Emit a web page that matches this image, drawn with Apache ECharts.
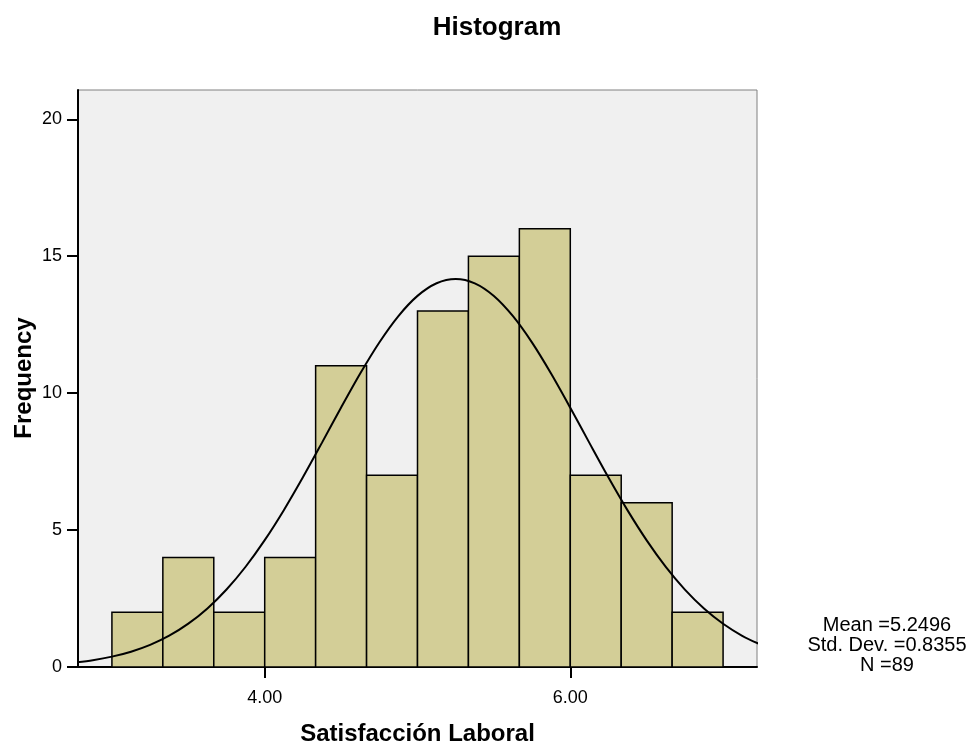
<!DOCTYPE html>
<html>
<head>
<meta charset="utf-8">
<script src="https://cdn.jsdelivr.net/npm/echarts@6/dist/echarts.min.js"></script>
<style>
  html, body { margin: 0; padding: 0; background: #ffffff; }
  #chart { width: 971px; height: 744px; }
</style>
</head>
<body>
<div id="chart"></div>
<script>
// ---- data ----
const binEdges = [3.0, 3.3333, 3.6667, 4.0, 4.3333, 4.6667, 5.0, 5.3333, 5.6667, 6.0, 6.3333, 6.6667, 7.0];
const frequencies = [2, 4, 2, 4, 11, 7, 13, 15, 16, 7, 6, 2];
const curveX = [2.75, 2.875, 3.0, 3.125, 3.25, 3.375, 3.5, 3.625, 3.75, 3.875, 4.0, 4.125, 4.25, 4.375, 4.5, 4.625, 4.75, 4.875, 5.0, 5.125, 5.25,
                5.375, 5.5, 5.625, 5.75, 5.875, 6.0, 6.125, 6.25, 6.375, 6.5, 6.625, 6.75, 6.875, 7.0, 7.125, 7.25];
const curveY = [0.161, 0.250, 0.378, 0.559, 0.808, 1.144, 1.582, 2.139, 2.830, 3.661, 4.631, 5.727, 6.927, 8.193, 9.475, 10.716, 11.850, 12.815, 13.552, 14.013, 14.170,
                14.011, 13.548, 12.809, 11.844, 10.708, 9.467, 8.184, 6.919, 5.719, 4.624, 3.655, 2.825, 2.136, 1.579, 1.141, 0.807];
const xTicks = [4, 6];
const yTicks = [0, 5, 10, 15, 20];
const statsLines = ['Mean =5.2496', 'Std. Dev. =0.8355', 'N =89'];
const titleText = 'Histogram';
const xName = 'Satisfacción Laboral';
const yName = 'Frequency';

const FONT = '"Liberation Sans", Arial, sans-serif';

const barData = frequencies.map((f, i) => [binEdges[i], binEdges[i + 1], f]);
const curveData = curveX.map((x, i) => [x, curveY[i]]);

const chart = echarts.init(document.getElementById('chart'), null, { renderer: 'canvas' });

chart.setOption({
  animation: false,
  backgroundColor: '#ffffff',
  textStyle: { fontFamily: FONT },
  grid: {
    left: 78, right: 214, top: 90, bottom: 77,
    show: true, backgroundColor: '#f0f0f0', borderColor: '#808080', borderWidth: 1
  },
  xAxis: {
    type: 'value', min: 2.778, max: 7.222,
    splitLine: { show: false },
    axisLine: { show: true, onZero: false, lineStyle: { color: '#000', width: 2 } },
    axisTick: { show: true, length: 11, lineStyle: { color: '#000', width: 2 }, customValues: xTicks },
    axisLabel: { color: '#000', fontSize: 18, fontFamily: FONT, margin: 22, customValues: xTicks,
      formatter: v => Number(v).toFixed(2) }
  },
  yAxis: {
    type: 'value', min: 0, max: 21.07,
    splitLine: { show: false },
    axisLine: { show: true, lineStyle: { color: '#000', width: 2 } },
    axisTick: { show: true, length: 11, lineStyle: { color: '#000', width: 2 }, customValues: yTicks },
    axisLabel: { color: '#000', fontSize: 18, fontFamily: FONT, margin: 16, customValues: yTicks }
  },
  series: [
    {
      type: 'custom',
      data: barData,
      encode: { x: [0, 1], y: 2 },
      z: 2,
      renderItem: function (params, api) {
        const p0 = api.coord([api.value(0), api.value(2)]);
        const p1 = api.coord([api.value(1), 0]);
        return {
          type: 'rect',
          shape: { x: p0[0], y: p0[1], width: p1[0] - p0[0], height: p1[1] - p0[1] },
          style: { fill: '#d3ce97', stroke: '#000', lineWidth: 1.5 }
        };
      }
    },
    {
      type: 'line',
      data: curveData,
      smooth: 0.3,
      symbol: 'none',
      clip: true,
      z: 3,
      lineStyle: { color: '#000', width: 2 }
    }
  ],
  graphic: [
    { type: 'text', x: 497, y: 27.5, z: 10,
      style: { text: titleText, align: 'center', verticalAlign: 'middle',
        font: 'bold 26px ' + FONT, fill: '#000' } },
    { type: 'text', x: 417.5, y: 734, z: 10,
      style: { text: xName, align: 'center', verticalAlign: 'middle',
        font: 'bold 24px ' + FONT, fill: '#000' } },
    { type: 'text', x: 24, y: 378, rotation: Math.PI / 2, z: 10,
      style: { text: yName, align: 'center', verticalAlign: 'middle',
        font: 'bold 24px ' + FONT, fill: '#000' } },
    { type: 'text', x: 887, y: 645, z: 10,
      style: { text: statsLines.join('\n'), align: 'center', verticalAlign: 'middle',
        font: '20px ' + FONT, lineHeight: 20, fill: '#000' } }
  ]
});
</script>
</body>
</html>
